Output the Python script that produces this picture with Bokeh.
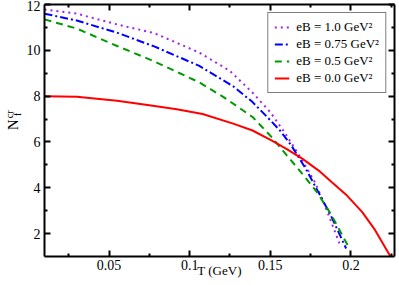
import math
from bokeh.plotting import figure
from bokeh.models import LinearAxis, FixedTicker, Legend, LegendItem
from bokeh.embed import file_html
from bokeh.resources import INLINE

# ---- data ----
T_eb10 = [0.010, 0.030, 0.055, 0.078, 0.106, 0.125, 0.139, 0.150, 0.158, 0.164, 0.171, 0.178, 0.184, 0.190, 0.193]
N_eb10 = [11.78, 11.60, 11.13, 10.75, 9.90, 9.10, 8.15, 7.30, 6.50, 5.85, 5.05, 4.20, 3.20, 2.10, 1.55]

T_eb075 = [0.010, 0.030, 0.055, 0.078, 0.106, 0.127, 0.139, 0.150, 0.156, 0.163, 0.172, 0.182, 0.188, 0.197]
N_eb075 = [11.60, 11.30, 10.77, 10.17, 9.32, 8.43, 7.74, 6.95, 6.50, 5.85, 4.83, 3.52, 2.72, 1.35]

T_eb05 = [0.010, 0.030, 0.055, 0.078, 0.106, 0.121, 0.139, 0.151, 0.161, 0.170, 0.179, 0.188, 0.1985]
N_eb05 = [11.35, 10.95, 10.19, 9.52, 8.60, 7.96, 7.09, 6.20, 5.35, 4.60, 3.80, 2.80, 1.42]

T_eb00 = [0.010, 0.030, 0.055, 0.075, 0.092, 0.108, 0.127, 0.139, 0.151, 0.160, 0.170, 0.180, 0.188, 0.197, 0.207, 0.215, 0.2245]
N_eb00 = [8.00, 7.97, 7.80, 7.60, 7.43, 7.22, 6.80, 6.50, 6.06, 5.70, 5.26, 4.75, 4.25, 3.70, 2.94, 2.15, 1.00]

legend_labels = ["eB = 1.0 GeV\u00b2", "eB = 0.75 GeV\u00b2", "eB = 0.5 GeV\u00b2", "eB = 0.0 GeV\u00b2"]

x_major = [0.05, 0.1, 0.15, 0.2]
x_major_labels = ["0.05", "0.1", "0.15", "0.2"]
x_minor = [0.025, 0.075, 0.125, 0.175, 0.225]
y_major = [2, 4, 6, 8, 10, 12]
y_minor = [3, 5, 7, 9, 11]

x_title = "T (GeV)"
y_title_main = "N"
y_title_sub = "f"
y_title_sup = "cr"

FONT = "Liberation Serif"
NBSP = "\u00a0"

p = figure(width=399, height=285, x_range=(0.01, 0.227), y_range=(1, 12),
           output_backend="svg", toolbar_location=None,
           min_border_left=39, min_border_right=5, min_border_top=4, min_border_bottom=29)
p.outline_line_color = None
p.xgrid.visible = False
p.ygrid.visible = False
p.background_fill_color = "white"
p.border_fill_color = "white"

def style_axis(ax, ticks, minor, show_labels):
    ax.ticker = FixedTicker(ticks=ticks, minor_ticks=minor)
    ax.axis_line_width = 2
    ax.axis_line_color = "black"
    ax.major_tick_in = 6
    ax.major_tick_out = 0
    ax.minor_tick_in = 3
    ax.minor_tick_out = 0
    ax.major_tick_line_width = 2
    ax.minor_tick_line_width = 2
    ax.major_tick_line_color = "black"
    ax.minor_tick_line_color = "black"
    ax.major_label_text_font = FONT
    if show_labels:
        ax.major_label_text_font_size = "14px"
        ax.major_label_text_color = "black"
    else:
        ax.major_label_text_font_size = "0px"
        ax.major_label_text_color = None
        ax.major_label_standoff = 0

def style_title(ax, text, size, standoff):
    ax.axis_label = text
    ax.axis_label_text_font = FONT
    ax.axis_label_text_font_size = size
    ax.axis_label_text_font_style = "normal"
    ax.axis_label_text_color = "black"
    ax.axis_label_standoff = standoff

style_axis(p.xaxis[0], x_major, x_minor, True)
p.xaxis[0].major_label_overrides = {v: s for v, s in zip(x_major, x_major_labels)}
p.xaxis[0].major_label_standoff = 3
style_title(p.xaxis[0], x_title, "13px", -10)

# main y axis carries the ticks and the subscript "f"
style_axis(p.yaxis[0], y_major, y_minor, True)
p.yaxis[0].major_label_standoff = 4
style_title(p.yaxis[0], NBSP * 13 + y_title_sub, "10px", 1)

def title_only_axis(text, size, standoff):
    ax = LinearAxis(ticker=FixedTicker(ticks=[]))
    ax.axis_line_color = None
    ax.major_tick_line_color = None
    ax.minor_tick_line_color = None
    ax.major_tick_in = 0
    ax.major_tick_out = 0
    ax.minor_tick_in = 0
    ax.minor_tick_out = 0
    ax.major_label_text_font_size = "0px"
    ax.major_label_text_color = None
    ax.major_label_standoff = 0
    style_title(ax, text, size, standoff)
    return ax

p.add_layout(title_only_axis(NBSP * 3 + y_title_main, "15px", -12), "left")
p.add_layout(title_only_axis(NBSP * 13 + y_title_sup, "10px", -13), "left")

top_ax = LinearAxis()
style_axis(top_ax, x_major, x_minor, False)
p.add_layout(top_ax, "above")
right_ax = LinearAxis()
style_axis(right_ax, y_major, y_minor, False)
p.add_layout(right_ax, "right")

r1 = p.line(T_eb10, N_eb10, line_color="#a020f0", line_width=2, line_dash="2 4")
r2 = p.line(T_eb075, N_eb075, line_color="#0000ff", line_width=2, line_dash="8 3 2 3")
r3 = p.line(T_eb05, N_eb05, line_color="#009a00", line_width=2, line_dash="7 5")
r4 = p.line(T_eb00, N_eb00, line_color="#ff0000", line_width=2)

legend = Legend(items=[LegendItem(label=l, renderers=[r]) for l, r in zip(legend_labels, [r1, r2, r3, r4])],
                location="top_right")
legend.label_text_font = FONT
legend.label_text_font_size = "13px"
legend.label_text_color = "black"
legend.glyph_width = 15
legend.glyph_height = 16
legend.label_height = 16
legend.spacing = 1
legend.padding = 6
legend.label_standoff = 7
legend.margin = 8
legend.border_line_color = "black"
legend.border_line_width = 1.5
legend.background_fill_color = "white"
legend.background_fill_alpha = 1
p.add_layout(legend)

open("out.html", "w").write(file_html(p, INLINE))
